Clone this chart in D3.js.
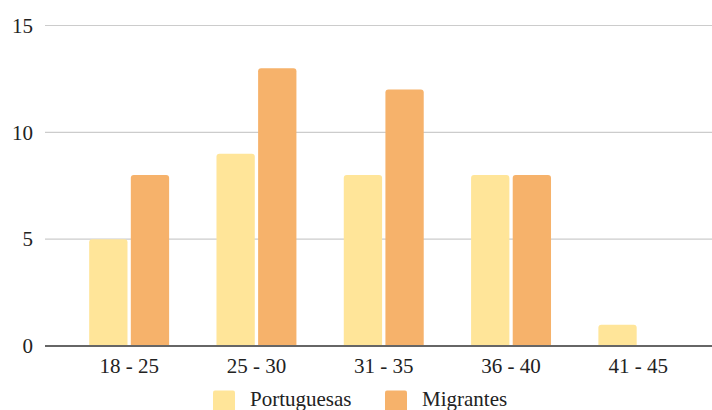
<!DOCTYPE html>
<html>
<head>
<meta charset="utf-8">
<script src="https://cdn.jsdelivr.net/npm/d3@7"></script>
</head>
<body style="margin:0;background:#fff">
<svg id="chart" width="712" height="410"></svg>
<script>
// Age groups and counts per group
const categories = ["18 - 25", "25 - 30", "31 - 35", "36 - 40", "41 - 45"];
const seriesNames = ["Portuguesas", "Migrantes"];
const portuguesas = [5, 9, 8, 8, 1];
const migrantes = [8, 13, 12, 8, 0];
const yTicks = [0, 5, 10, 15];
const colors = ["#ffe599", "#f6b26b"];

const svg = d3.select("#chart");
const gridLeft = 45, gridRight = 712;
const yTop = 25.5, yBottom = 346;
const FAMILY = '"Times New Roman", "Liberation Serif", Tinos, serif';

function serif(sel) {
  sel.attr("font-family", null)
    .attr("style", `font-family: ${FAMILY}; font-size: 21px;`)
    .attr("fill", "#222");
}

const y = d3.scaleLinear().domain([0, 15]).range([yBottom, yTop]);
const x0 = d3.scaleBand().domain(categories).range([65.5, 702])
  .paddingInner(0.372).paddingOuter(0.186);
const x1 = d3.scaleBand().domain(seriesNames).range([0, x0.bandwidth()])
  .paddingInner(0.08);

const values = [portuguesas, migrantes];
const color = d3.scaleOrdinal().domain(seriesNames).range(colors);

// Horizontal gridlines
svg.append("g").selectAll("line")
  .data(yTicks.filter(t => t !== 0))
  .join("line")
  .attr("x1", gridLeft).attr("x2", gridRight)
  .attr("y1", d => y(d)).attr("y2", d => y(d))
  .attr("stroke", "#cccccc").attr("stroke-width", 1.2);

// Bars with rounded top corners
function barPath(xp, w, yv) {
  const top = y(yv), bot = y(0);
  const h = bot - top;
  if (h <= 0) return "";
  const r = Math.min(3, h / 2, w / 2);
  return `M${xp},${bot}V${top + r}Q${xp},${top} ${xp + r},${top}H${xp + w - r}Q${xp + w},${top} ${xp + w},${top + r}V${bot}Z`;
}

const groups = svg.append("g").selectAll("g")
  .data(categories)
  .join("g")
  .attr("transform", d => `translate(${x0(d)},0)`);

groups.selectAll("path")
  .data((c, i) => seriesNames.map((s, k) => ({ s, v: values[k][i] })))
  .join("path")
  .attr("d", d => barPath(x1(d.s), x1.bandwidth(), d.v))
  .attr("fill", d => color(d.s));

// Baseline
svg.append("line")
  .attr("x1", gridLeft).attr("x2", gridRight)
  .attr("y1", y(0)).attr("y2", y(0))
  .attr("stroke", "#666").attr("stroke-width", 2);

// Y axis labels
const yAxis = d3.axisLeft(y).tickValues(yTicks).tickSize(0).tickPadding(0);
const gy = svg.append("g").attr("transform", "translate(33,0)").call(yAxis);
gy.attr("font-family", null).attr("font-size", null);
gy.select(".domain").remove();
gy.selectAll("text").call(serif);

// X axis labels
const xAxis = d3.axisBottom(x0).tickSize(0).tickPadding(0);
const gx = svg.append("g").attr("transform", `translate(0,${y(0)})`).call(xAxis);
gx.attr("font-family", null).attr("font-size", null);
gx.select(".domain").remove();
gx.selectAll("text")
  .attr("dy", null).attr("y", 27)
  .call(serif);

// Legend
const legendItems = [
  { name: seriesNames[0], sx: 213, tx: 250 },
  { name: seriesNames[1], sx: 385, tx: 422 }
];
const lg = svg.append("g");
lg.selectAll("rect").data(legendItems).join("rect")
  .attr("x", d => d.sx).attr("y", 390.5)
  .attr("width", 22).attr("height", 22)
  .attr("rx", 2)
  .attr("fill", d => color(d.name));
lg.selectAll("text").data(legendItems).join("text")
  .attr("x", d => d.tx).attr("y", 406)
  .call(serif)
  .text(d => d.name);
</script>
</body>
</html>
